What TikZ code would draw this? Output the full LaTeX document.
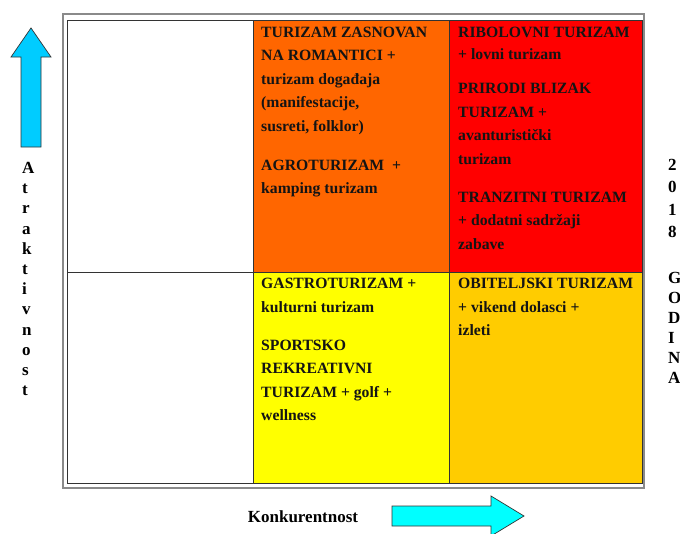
\documentclass[tikz,border=0pt]{standalone}
\usepackage{fontspec}
\setmainfont{Liberation Serif}
\definecolor{cOrange}{HTML}{FF6600}
\definecolor{cRed}{HTML}{FF0000}
\definecolor{cYellow}{HTML}{FFFF00}
\definecolor{cGold}{HTML}{FFCC00}
\definecolor{cSky}{HTML}{00CCFF}
\definecolor{cCyan}{HTML}{00FFFF}
\definecolor{cLine}{HTML}{333333}
\definecolor{cFrame}{HTML}{8A8A8A}
\tikzset{
  cellbox/.style={draw=cLine, line width=0.9pt, anchor=north west, inner sep=0pt, outer sep=0pt},
  celltext/.style={anchor=north west, inner sep=0pt, align=left, text=black!92,
    font=\fontsize{15.7}{23.5}\selectfont\bfseries},
  sidetext/.style={inner sep=0pt, anchor=north west, align=left,
    font=\fontsize{17}{20.2}\selectfont\bfseries},
  arrowshape/.style={draw=cLine, line width=0.7pt, line join=miter}
}
\begin{document}
\begin{tikzpicture}[x=1pt,y=-1pt]
\useasboundingbox[fill=white] (0,0) rectangle (680,533);
\begin{scope}
\clip (0,0) rectangle (680,533);
% outer frame
\draw[cFrame, line width=1.6pt] (63,14) rectangle (644,488);
% cells
\node[cellbox, fill=white, minimum width=186pt, minimum height=252pt] (c11) at (67,20) {};
\node[cellbox, fill=cOrange, minimum width=196pt, minimum height=252pt] (c12) at (253,20) {};
\node[cellbox, fill=cRed, minimum width=193pt, minimum height=252pt] (c13) at (449,20) {};
\node[cellbox, fill=white, minimum width=186pt, minimum height=211pt] (c21) at (67,272) {};
\node[cellbox, fill=cYellow, minimum width=196pt, minimum height=211pt] (c22) at (253,272) {};
\node[cellbox, fill=cGold, minimum width=193pt, minimum height=211pt] (c23) at (449,272) {};
% cell texts
\node[celltext] (o1) at (261,26.5) {TURIZAM ZASNOVAN\\NA ROMANTICI +\\turizam događaja\\(manifestacije,\\susreti, folklor)};
\node[celltext] (o2) at (261,159.8) {AGROTURIZAM\ \ +\\kamping turizam};
\node[celltext, font=\fontsize{15.7}{22}\selectfont\bfseries] (r1) at (458,26.5) {RIBOLOVNI TURIZAM\\+ lovni turizam};
\node[celltext] (r2) at (458,83) {PRIRODI BLIZAK\\TURIZAM +\\avanturistički\\turizam};
\node[celltext] (r3) at (458,191.5) {TRANZITNI TURIZAM\\+ dodatni sadržaji\\zabave};
\node[celltext] (y1) at (261,278) {GASTROTURIZAM +\\kulturni turizam};
\node[celltext] (y2) at (261,339.8) {SPORTSKO\\REKREATIVNI\\TURIZAM + golf +\\wellness};
\node[celltext] (g1) at (458,278) {OBITELJSKI TURIZAM\\+ vikend dolasci +\\izleti};
% side labels
\node[sidetext] (atr) at (22,162) {A\\t\\r\\a\\k\\t\\i\\v\\n\\o\\s\\t};
\node[sidetext, font=\fontsize{17}{22.5}\selectfont\bfseries] (yr) at (668,159) {2\\0\\1\\8};
\node[sidetext, font=\fontsize{17}{20}\selectfont\bfseries] (god) at (668,272) {G\\O\\D\\I\\N\\A};
\node[inner sep=0pt, font=\fontsize{17}{20}\selectfont\bfseries] (kon) at (303,517) {Konkurentnost};
% arrows
\draw[arrowshape, fill=cSky] (21,147) -- (21,57) -- (11,57) -- (31,28) -- (51,57) -- (41,57) -- (41,147) -- cycle;
\draw[arrowshape, fill=cCyan] (392,506) -- (491,506) -- (491,496) -- (524,516) -- (491,536) -- (491,526) -- (392,526) -- cycle;
\end{scope}
\end{tikzpicture}
\end{document}
